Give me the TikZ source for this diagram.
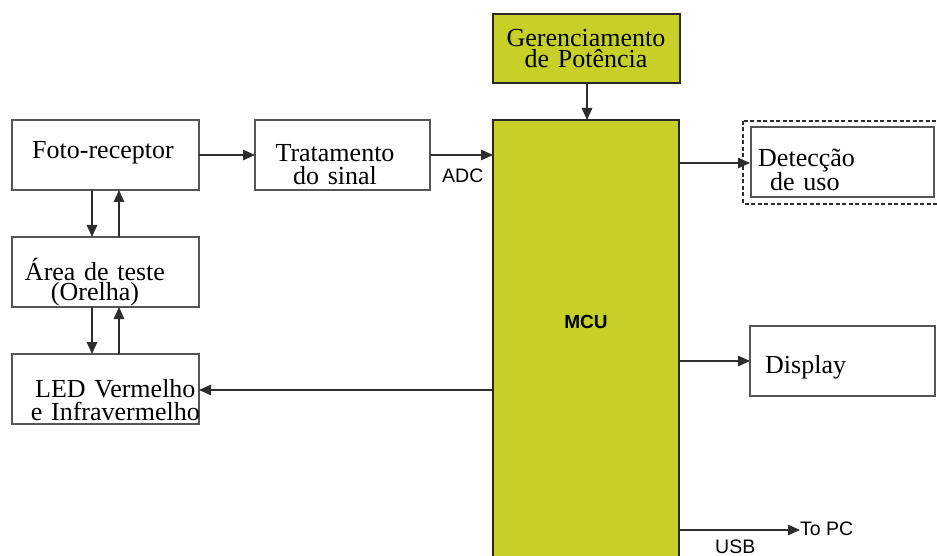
\documentclass[tikz,border=0pt]{standalone}
\usepackage{fontspec}
\setmainfont{Liberation Serif}
\newfontfamily\labelsans{Liberation Sans}
\usetikzlibrary{arrows.meta}
\definecolor{mcugreen}{RGB}{198,208,38}
\definecolor{linegray}{RGB}{45,45,45}
\definecolor{boxgray}{RGB}{85,85,85}
\tikzset{
  blockbox/.style={draw=boxgray,line width=1.6pt,fill=white},
  greenbox/.style={draw=linegray!90!black,line width=2.6pt,fill=mcugreen},
  conn/.style={draw=linegray,line width=1.3pt,-{Triangle[length=12pt,width=10.5pt]}},
  boxtext/.style={font=\fontsize{26}{21}\selectfont,inner sep=0pt,anchor=base},
  sanslbl/.style={font=\labelsans\fontsize{19.5}{20}\selectfont,inner sep=0pt,anchor=base west},
}
\begin{document}
\begin{tikzpicture}[x=1pt,y=-1pt]
\useasboundingbox (0,0) rectangle (937,556);
% boxes
\draw[greenbox] (493,14) rectangle (680,83);
\coordinate (gerS) at (587,83);
\draw[greenbox] (493,120) rectangle (679,570);
\coordinate (mcuN) at (587,120);
\node[font=\labelsans\bfseries\fontsize{19}{20}\selectfont] (mcu) at (586,322) {MCU};

\draw[blockbox] (12,120) rectangle (199,190);
\draw[blockbox] (255,120) rectangle (430,190);
\draw[blockbox] (12,237) rectangle (199,307);
\draw[blockbox] (12,354) rectangle (199,424);
\draw[draw=linegray,line width=1.4pt,dash pattern=on 4pt off 2.5pt] (743,121) rectangle (945,204);
\draw[blockbox] (751,127) rectangle (934,197);
\draw[blockbox] (750,326) rectangle (935,396);

% texts (base anchor = baseline of the last line)
\node[boxtext] (foto) at (103,159) {Foto-receptor};
\node[boxtext,align=center,font=\fontsize{26}{23}\selectfont] (trat) at (335,185) {Tratamento\\do\,\,sinal};
\node[boxtext,align=center,font=\fontsize{26}{20}\selectfont] (area) at (95,300) {Área\,\,de\,\,teste\\(Orelha)};
\node[boxtext,align=right,anchor=base east,font=\fontsize{26}{23}\selectfont] (led) at (200,420) {LED\,\,Vermelho\,\\e\,\,Infravermelho};
\node[boxtext,align=center] (ger) at (586,68) {Gerenciamento\\de\,\,Potência};
\node[boxtext,align=left,anchor=base west,font=\fontsize{26}{23}\selectfont] (det) at (758,191) {Detecção\\\hspace*{12pt}de\,\,uso};
\node[boxtext,anchor=base west] (disp) at (765,373) {Display};

% coordinates for connectors
\coordinate (fotoE) at (199,155);
\coordinate (tratW) at (255,155);
\coordinate (tratE) at (430,155);
\coordinate (mcuW1) at (493,155);
\coordinate (fotoSd) at (92,190);
\coordinate (areaNd) at (92,237);
\coordinate (fotoSu) at (119,190);
\coordinate (areaNu) at (119,237);
\coordinate (areaSd) at (92,307);
\coordinate (ledNd) at (92,354);
\coordinate (areaSu) at (119,307);
\coordinate (ledNu) at (119,354);
\coordinate (mcuW2) at (493,390);
\coordinate (ledE) at (199,390);
\coordinate (mcuE1) at (679,163);
\coordinate (detW) at (750,163);
\coordinate (mcuE2) at (679,361);
\coordinate (dispW) at (750,361);
\coordinate (mcuE3) at (679,530);
\coordinate (topc) at (800,530);

\draw[conn] (gerS) -- (mcuN);
\draw[conn] (fotoE) -- (tratW);
\draw[conn] (tratE) -- (mcuW1);
\draw[conn] (fotoSd) -- (areaNd);
\draw[conn] (areaNu) -- (fotoSu);
\draw[conn] (areaSd) -- (ledNd);
\draw[conn] (ledNu) -- (areaSu);
\draw[conn] (mcuW2) -- (ledE);
\draw[conn] (mcuE1) -- (detW);
\draw[conn] (mcuE2) -- (dispW);
\draw[conn] (mcuE3) -- (topc);

\node[sanslbl] (adc) at (442,183) {ADC};
\node[sanslbl] (topcl) at (800,535) {To PC};
\node[sanslbl] (usb) at (715,553) {USB};
\end{tikzpicture}
\end{document}
